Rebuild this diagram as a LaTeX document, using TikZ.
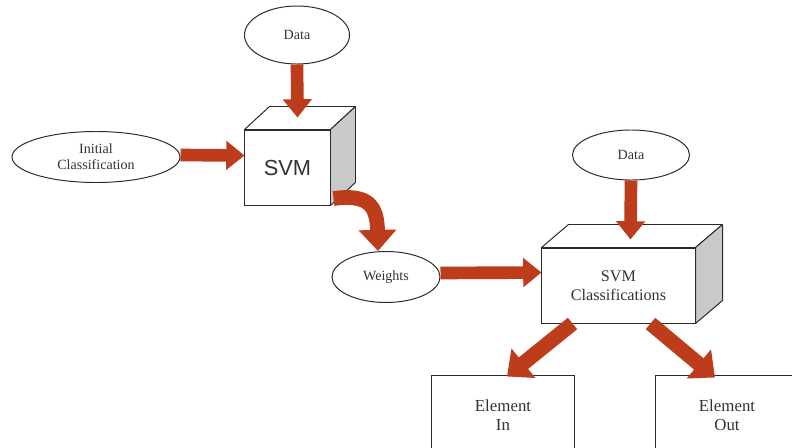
\documentclass[tikz,border=0pt]{standalone}
\usepackage{fontspec}
\setmainfont{Liberation Serif}
\setsansfont{Liberation Sans}
\usetikzlibrary{calc, positioning, arrows.meta, shapes.geometric}
\definecolor{color_line}{HTML}{2B2B2B}
\definecolor{color_text}{HTML}{333333}
\definecolor{color_arrow}{HTML}{BC3C1C}
\definecolor{color_side}{HTML}{C9C9C9}
\tikzset{
  flow_oval/.style={ellipse, draw=color_line, line width=0.7pt, fill=white, inner sep=0pt, text=color_text, font=\rmfamily\fontsize{10}{11.5}\selectfont, align=center},
  cube_front/.style={rectangle, draw=color_line, line width=0.7pt, fill=white, text=color_text, align=center},
  cube_face/.style={draw=color_line, line width=0.7pt, fill=white, line join=round},
  cube_side/.style={cube_face, fill=color_side},
  out_box/.style={rectangle, draw=color_line, line width=0.7pt, fill=white, minimum width=3.55cm, minimum height=2cm, align=center, text=color_text, font=\rmfamily\fontsize{12}{13.5}\selectfont},
  flow_arrow/.style={draw=color_arrow, line width=9pt, -{Triangle[length=13pt, width=20pt]}},
  wide_arrow/.style={draw=color_arrow, line width=10.5pt, -{Triangle[length=15pt, width=26pt]}},
}
% top and side faces of a box node
\newcommand{\cubeback}[3]{%
  \draw[cube_face] (#1.north west) -- ++(#2,#3) -- ($(#1.north east)+(#2,#3)$) -- (#1.north east) -- cycle;
  \draw[cube_side] (#1.north east) -- ++(#2,#3) -- ($(#1.south east)+(#2,#3)$) -- (#1.south east) -- cycle;
}

\begin{document}
\begin{tikzpicture}[x=0.025cm, y=-0.025cm]
    \clip (0,0) rectangle (792,448);
    \fill[white] (0,0) rectangle (792,448);
    % ovals
    \node[flow_oval, minimum width=2.625cm, minimum height=1.45cm] (data_a) at (297,35) {Data};
    \node[flow_oval, minimum width=4.2cm, minimum height=1.275cm] (init) at (96,157) {Initial\\Classification};
    \node[flow_oval, minimum width=2.7cm, minimum height=1.275cm] (weights) at (386,277) {Weights};
    \node[flow_oval, minimum width=2.925cm, minimum height=1.25cm] (data_b) at (631,155) {Data};
    % cubes
    \node[cube_front, minimum width=2.125cm, minimum height=1.875cm, font=\sffamily\fontsize{15.5}{18}\selectfont] (svm) at (287.5,167.5) {SVM};
    \cubeback{svm}{25}{-23}
    \node[cube_front, minimum width=3.825cm, minimum height=1.875cm, font=\rmfamily\fontsize{11.5}{13.5}\selectfont] (svmc) at (618.5,285.5) {SVM\\Classifications};
    \cubeback{svmc}{27}{-23}
    % outputs
    \node[out_box] (elin) at (503,415) {Element\\In};
    \node[out_box] (elout) at (727,415) {Element\\Out};
    % arrows
    \draw[flow_arrow] (data_a.south) -- ($(svm.north)+(10,-12)$);
    \draw[flow_arrow] ($(init.east)+(0,-2)$) -- ($(svm.west)+(0,-12)$);
    \draw[wide_arrow] ($(svm.south east)+(3,-7)$) .. controls (368,194) and (377,205) .. ($(weights.north)+(-8,0)$);
    \draw[flow_arrow] ($(weights.east)+(0,-4)$) -- ($(svmc.west)+(0,-13)$);
    \draw[flow_arrow] (data_b.south) -- ($(svmc.north)+(12,-8)$);
    \draw[wide_arrow] ($(svmc.south west)+(31,0)$) -- ($(elin.north)+(4,2)$);
    \draw[wide_arrow] ($(svmc.south east)+(-45,0)$) -- ($(elout.north)+(-12,3)$);
\end{tikzpicture}
\end{document}
